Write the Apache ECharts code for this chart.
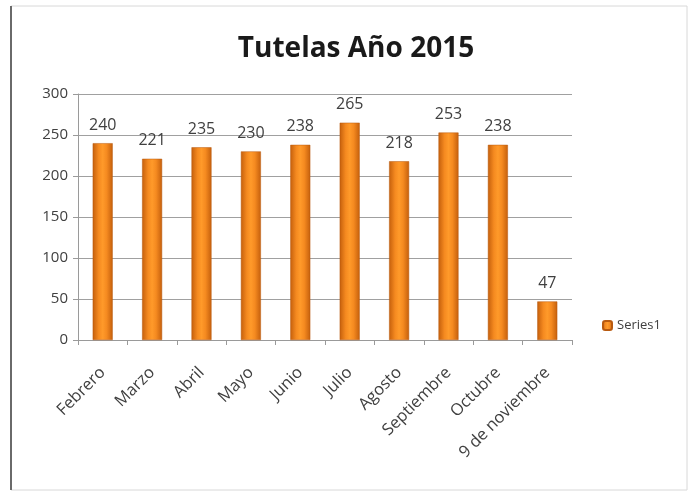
<!DOCTYPE html>
<html><head><meta charset="utf-8">
<script src="https://cdn.jsdelivr.net/npm/echarts@6/dist/echarts.min.js"></script>
<style>html,body{margin:0;padding:0;background:#fff}#c{width:688px;height:492px}</style>
</head><body><div id="c"></div>
<script>
const categories = ["Febrero","Marzo","Abril","Mayo","Junio","Julio","Agosto","Septiembre","Octubre","9 de noviembre"];
const values = [240,221,235,230,238,265,218,253,238,47];
const seriesName = "Series1";
const titleText = "Tutelas Año 2015";

const chart = echarts.init(document.getElementById('c'));
const barColor = new echarts.graphic.LinearGradient(0,0,1,0,[
  {offset:0,color:'#c45f0c'},{offset:0.3,color:'#f58a20'},{offset:0.5,color:'#ff9a2a'},{offset:0.7,color:'#f58a20'},{offset:1,color:'#c45f0c'}]);
chart.setOption({
  animation:false,
  title:{text:titleText,left:351,top:30,textAlign:'center',
    textStyle:{fontFamily:'Open Sans',fontWeight:'bold',fontSize:28,color:'#1a1a1a'}},
  graphic:[
    {type:'rect',shape:{x:11,y:6,width:676,height:484},style:{fill:'none',stroke:'#d8d8d8',lineWidth:1}},
    {type:'line',shape:{x1:11,y1:6,x2:11,y2:490},style:{stroke:'#6a6a6a',lineWidth:2}}
  ],
  legend:{data:[seriesName],left:597,top:314,itemWidth:9,itemHeight:9,itemGap:4,
    textStyle:{fontFamily:'Open Sans',fontSize:13,color:'#404040'}},
  grid:{left:78,right:116,top:94,bottom:152},
  xAxis:{type:'category',data:categories,
    axisLine:{lineStyle:{color:'#9a9a9a'}},
    axisTick:{show:true,alignWithLabel:false,lineStyle:{color:'#9a9a9a'}},
    axisLabel:{rotate:45,interval:0,margin:30,fontFamily:'Open Sans',fontSize:16.5,color:'#404040'}},
  yAxis:{type:'value',min:0,max:300,interval:50,
    axisLine:{show:true,lineStyle:{color:'#9a9a9a'}},
    axisTick:{show:true,lineStyle:{color:'#9a9a9a'}},
    splitLine:{lineStyle:{color:'#a0a0a0'}},
    axisLabel:{fontFamily:'Open Sans',fontSize:15,color:'#404040',margin:10}},
  series:[{name:seriesName,type:'bar',data:values,barWidth:20,
    itemStyle:{color:barColor,borderColor:'#b85a10',borderWidth:0.5},
    label:{show:true,position:'top',distance:10,fontFamily:'Open Sans',fontSize:16,color:'#404040'}}]
});
</script></body></html>
